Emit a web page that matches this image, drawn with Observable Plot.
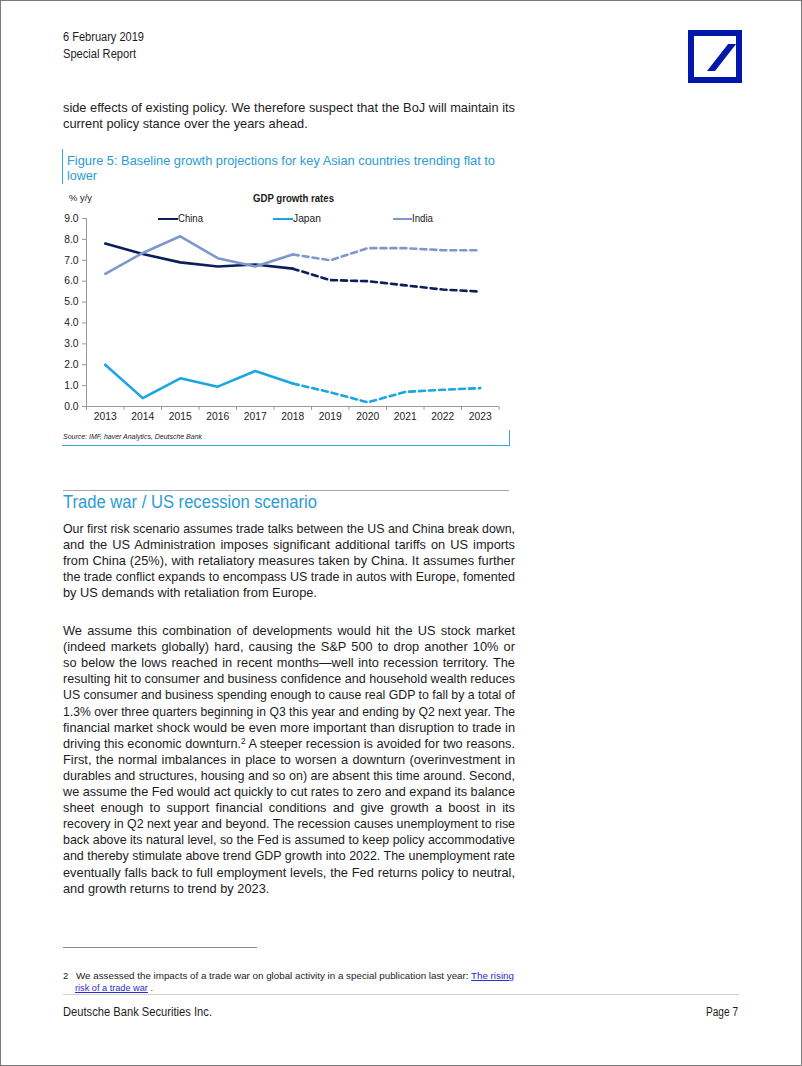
<!DOCTYPE html>
<html>
<head>
<meta charset="utf-8">
<script src="https://cdn.jsdelivr.net/npm/d3@7"></script>
<script src="https://cdn.jsdelivr.net/npm/@observablehq/plot@0.6"></script>
<style>
  html, body { margin: 0; padding: 0; background: #fff; }
  #page { position: relative; width: 802px; height: 1066px; box-sizing: border-box; border: 1px solid #7a7a7a; overflow: hidden; font-family: "Liberation Sans", Arial, sans-serif; color: #1c1c1c; }
  .ab { position: absolute; white-space: pre; }
  .ln { position: absolute; left: 62px; height: 16px; line-height: 16px; font-size: 12.8px; white-space: pre; transform-origin: left center; }
  .fit { display: inline-block; white-space: pre; transform-origin: left center; }
  #chart { position: absolute; left: 55px; top: 205px; }
  sup { font-size: 0.65em; line-height: 0; vertical-align: 0.45em; }
  a { color: #2b2bd0; text-decoration: underline; }
</style>
</head>
<body>
<div id="page"></div>
<script>
// ---------------- data ----------------
const years = [2013, 2014, 2015, 2016, 2017, 2018, 2019, 2020, 2021, 2022, 2023];
const lastActualYear = 2018;
const seriesNames = ["China", "Japan", "India"];
const seriesColors = ["#0c1f5a", "#1ba6e2", "#7f97cd"];
const china = [7.8, 7.3, 6.9, 6.7, 6.8, 6.6, 6.05, 6.0, 5.8, 5.6, 5.5];
const japan = [2.0, 0.4, 1.35, 0.95, 1.7, 1.1, 0.68, 0.2, 0.7, 0.8, 0.88];
const india = [6.35, 7.35, 8.15, 7.1, 6.7, 7.28, 7.0, 7.58, 7.58, 7.48, 7.48];
const yTicks = [0, 1, 2, 3, 4, 5, 6, 7, 8, 9];
const chartTitle = "GDP growth rates";
const yUnit = "% y/y";
const figureTitle = ["Figure 5: Baseline growth projections for key Asian countries trending flat to", "lower"];
const sourceNote = "Source: IMF, haver Analytics, Deutsche Bank";

const para0 = [
  "side effects of existing policy. We therefore suspect that the BoJ will maintain its",
  "current policy stance over the years ahead."
];
const heading = "Trade war / US recession scenario";
const para1 = [
  "Our first risk scenario assumes trade talks between the US and China break down,",
  "and the US Administration imposes significant additional tariffs on US imports",
  "from China (25%), with retaliatory measures taken by China. It assumes further",
  "the trade conflict expands to encompass US trade in autos with Europe, fomented",
  "by US demands with retaliation from Europe."
];
const para2 = [
  "We assume this combination of developments would hit the US stock market",
  "(indeed markets globally) hard, causing the S&P 500 to drop another 10% or",
  "so below the lows reached in recent months\u2014well into recession territory. The",
  "resulting hit to consumer and business confidence and household wealth reduces",
  "US consumer and business spending enough to cause real GDP to fall by a total of",
  "1.3% over three quarters beginning in Q3 this year and ending by Q2 next year. The",
  "financial market shock would be even more important than disruption to trade in",
  "driving this economic downturn.<sup>2</sup> A steeper recession is avoided for two reasons.",
  "First, the normal imbalances in place to worsen a downturn (overinvestment in",
  "durables and structures, housing and so on) are absent this time around. Second,",
  "we assume the Fed would act quickly to cut rates to zero and expand its balance",
  "sheet enough to support financial conditions and give growth a boost in its",
  "recovery in Q2 next year and beyond. The recession causes unemployment to rise",
  "back above its natural level, so the Fed is assumed to keep policy accommodative",
  "and thereby stimulate above trend GDP growth into 2022. The unemployment rate",
  "eventually falls back to full employment levels, the Fed returns policy to neutral,",
  "and growth returns to trend by 2023."
];

// ---------------- page furniture ----------------
const page = document.getElementById("page");
function add(html, style, fitW) {
  const d = document.createElement("div");
  d.className = "ab";
  Object.assign(d.style, style);
  if (fitW) {
    d.innerHTML = `<span class="fit">${html}</span>`;
    d.dataset.fitw = fitW;
  } else d.innerHTML = html;
  page.appendChild(d);
  return d;
}
function line(x1, y1, w, h, color) {
  add("", {left: x1 + "px", top: y1 + "px", width: w + "px", height: h + "px", background: color});
}

// header
add("6 February 2019", {left: "62px", top: "29px", fontSize: "12px", lineHeight: "15px"}, 81);
add("Special Report", {left: "62px", top: "46px", fontSize: "12px", lineHeight: "15px"}, 73);
// logo
add("", {left: "687px", top: "29px", width: "54px", height: "53px", background: "#0018a8"});
add("", {left: "693px", top: "35px", width: "42px", height: "41px", background: "#fff"});
add("", {left: "706px", top: "43px", width: "8px", height: "27px", background: "#0018a8", transform: "skewX(-38deg)", transformOrigin: "left bottom"});

function paragraph(lines, firstCenter, step) {
  lines.forEach((t, i) => {
    const d = document.createElement("div");
    d.className = "ln";
    d.style.top = (firstCenter + i * step - 8) + "px";
    d.innerHTML = `<span class="fit">${t}</span>`;
    d.dataset.justify = i < lines.length - 1 ? "1" : "0";
    page.appendChild(d);
  });
}
paragraph(para0, 106.5, 16.1);

// figure header
line(61, 148, 1, 35, "#39a7dc");
add(figureTitle[0], {left: "66px", top: "152px", fontSize: "13px", lineHeight: "16px", color: "#2a9bd6"}, 428);
add(figureTitle[1], {left: "66px", top: "167px", fontSize: "13px", lineHeight: "16px", color: "#2a9bd6"}, 30);
add(yUnit, {left: "68px", top: "191px", fontSize: "9.5px", lineHeight: "12px"}, 23);
add(chartTitle, {left: "252px", top: "192px", fontSize: "10px", lineHeight: "12px", fontWeight: "bold"}, 81);

// legend
const legendPos = [[157, 177, 25], [272, 292, 28], [392, 411, 21]];
seriesNames.forEach((n, i) => {
  const [sx, tx, tw] = legendPos[i];
  line(sx, 216.5, tx - sx, 2.4, seriesColors[i]);
  add(n, {left: tx + "px", top: "212px", fontSize: "10px", lineHeight: "12px"}, tw);
});

// source + figure frame
add(sourceNote, {left: "62px", top: "431px", fontSize: "7.5px", lineHeight: "10px", fontStyle: "italic"}, 139);
line(61, 444, 448, 1.2, "#39a7dc");
line(508, 429, 1.2, 16, "#39a7dc");

// heading
line(62, 488.5, 446, 1, "#a8a8a8");
add(heading, {left: "62px", top: "491px", fontSize: "17.5px", lineHeight: "21px", color: "#2a9bd6"}, 254);

paragraph(para1, 527.5, 16.1);
paragraph(para2, 630, 16.1);

// footnote
line(62, 946, 194, 1, "#8a8a8a");
add("2", {left: "62px", top: "969px", fontSize: "9.5px", lineHeight: "12px"});
add('We assessed the impacts of a trade war on global activity in a special publication last year: <a>The rising</a>', {left: "75px", top: "969px", fontSize: "9.5px", lineHeight: "12px"}, 438);
add('<a>risk of a trade war</a> .', {left: "74px", top: "981px", fontSize: "9.5px", lineHeight: "12px"}, 78);
line(62, 993, 676, 1, "#d2d2d2");
add("Deutsche Bank Securities Inc.", {left: "62px", top: "1004px", fontSize: "12px", lineHeight: "15px"}, 149);
add("Page 7", {left: "705px", top: "1004px", fontSize: "12px", lineHeight: "15px"}, 32);

// ---------------- chart ----------------
const valuesBySeries = {China: china, Japan: japan, India: india};
const rows = [];
seriesNames.forEach(name => {
  years.forEach((yr, i) => {
    const v = valuesBySeries[name][i];
    if (yr <= lastActualYear) rows.push({series: name, year: yr, value: v, part: "actual"});
    if (yr >= lastActualYear) rows.push({series: name, year: yr, value: v, part: "forecast"});
  });
});
const boundaries = years.map(y => y - 0.5).concat([years[years.length - 1] + 0.5]);

const chart = Plot.plot({
  width: 455,
  height: 225,
  marginLeft: 30,
  marginRight: 12.5,
  marginTop: 12,
  marginBottom: 25,
  x: {type: "linear", domain: [years[0] - 0.5, years[years.length - 1] + 0.5]},
  y: {domain: [0, 9]},
  color: {domain: seriesNames, range: seriesColors},
  style: {fontFamily: '"Liberation Sans", Arial, sans-serif', fontSize: "10.3px", color: "#1c1c1c", background: "transparent", overflow: "visible"},
  marks: [
    Plot.axisY({ticks: yTicks, tickFormat: d => d.toFixed(1), tickSize: 4, tickPadding: 4, stroke: "#9a9a9a", label: null}),
    Plot.axisX({ticks: boundaries, tickFormat: () => "", tickSize: 4, stroke: "#9a9a9a", label: null}),
    Plot.axisX({ticks: years, tickFormat: d => String(d), tickSize: 0, tickPadding: 6, label: null}),
    Plot.ruleX([years[0] - 0.5], {y1: 0, y2: 9, stroke: "#9a9a9a"}),
    Plot.ruleY([0], {stroke: "#9a9a9a"}),
    Plot.line(rows.filter(d => d.part === "actual"), {x: "year", y: "value", z: "series", stroke: "series", strokeWidth: 2.6, strokeLinejoin: "round"}),
    Plot.line(rows.filter(d => d.part === "forecast"), {x: "year", y: "value", z: "series", stroke: "series", strokeWidth: 2.6, strokeDasharray: "6,4", strokeLinejoin: "round"})
  ]
});
chart.id = "chart";
page.appendChild(chart);

// ---------------- text fitting ----------------
document.querySelectorAll(".ln").forEach(d => {
  const span = d.querySelector(".fit");
  const target = 452;
  const w = span.getBoundingClientRect().width;
  const spaces = (span.textContent.match(/ /g) || []).length;
  if (w > target) {
    span.style.transform = `scaleX(${target / w})`;
  } else if (d.dataset.justify === "1" && spaces > 0) {
    span.style.wordSpacing = ((target - w) / spaces) + "px";
  }
});
document.querySelectorAll("[data-fitw]").forEach(d => {
  const span = d.querySelector(".fit");
  const target = +d.dataset.fitw;
  const w = span.getBoundingClientRect().width;
  if (w > 0) span.style.transform = `scaleX(${target / w})`;
});
</script>
</body>
</html>
